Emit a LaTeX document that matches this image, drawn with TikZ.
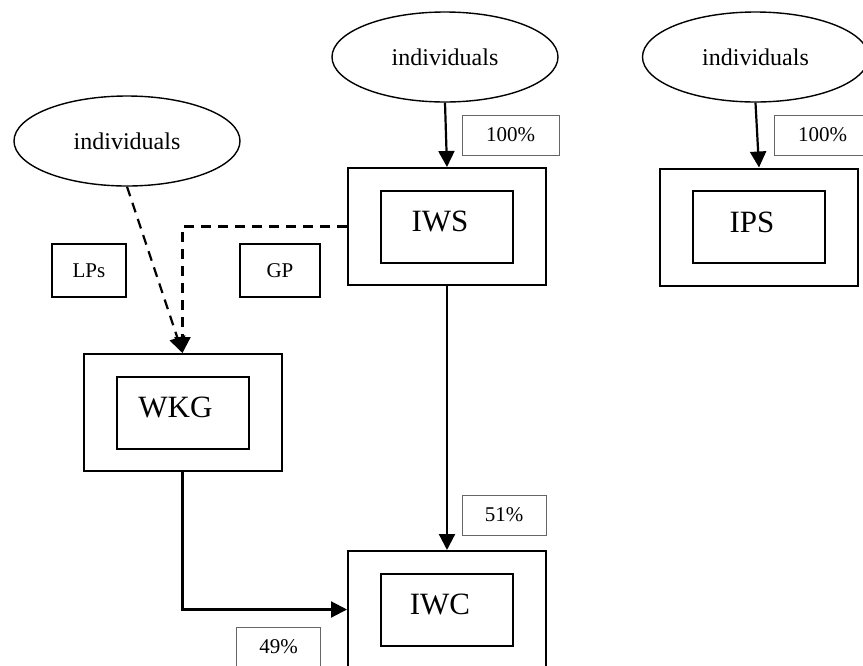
\documentclass[tikz,border=0pt]{standalone}
\usepackage{fontspec}
\setmainfont{Liberation Serif}
\usetikzlibrary{arrows.meta,shapes.geometric}

\begin{document}
\begin{tikzpicture}[x=0.5pt,y=-0.5pt,
	outerbox/.style={draw,line width=1pt,minimum width=99pt,minimum height=58.5pt,inner sep=0pt},
	innerbox/.style={draw,line width=1pt,minimum width=66pt,minimum height=36pt,inner sep=0pt,text height=11pt,text depth=6pt,font=\fontsize{15.5}{18}\selectfont},
	people/.style={draw,ellipse,line width=0.7pt,minimum width=113pt,minimum height=45pt,inner sep=0pt,font=\fontsize{12}{14}\selectfont},
	share/.style={draw=black!60,line width=0.45pt,minimum height=20pt,inner sep=0pt,font=\fontsize{10.5}{12}\selectfont},
	partner/.style={draw,line width=0.7pt,minimum height=26.5pt,inner sep=0pt,font=\fontsize{10.5}{12}\selectfont},
	link/.style={line width=1.1pt,-{Triangle[length=8pt,width=8pt]}},
	dashlink/.style={link,dash pattern=on 5pt off 3.5pt}]
\useasboundingbox (0,0) rectangle (863,665);
\clip (0,0) rectangle (863,665);

% entities, each a box in a box
\foreach \n/\t/\x/\y in {iws/IWS/447/226.5, ips/IPS/759/227, wkg/WKG/182.5/412.5, iwc/IWC/447/609.5}
{
	\node[outerbox] (\n) at (\x,\y) {};
	\node[innerbox] (\n in) at (\x,\y) {\t\hspace*{7pt}};
}

% owners
\node[people] (indA) at (127,141) {individuals};
\node[people] (indB) at (445,57) {individuals};
\node[people] (indC) at (755.5,57) {individuals};

\node[partner,minimum width=37pt] (lps) at (89,270.5) {LPs};
\node[partner,minimum width=40pt] (gp) at (280,270.5) {GP};

% shares
\node[share,minimum width=48.5pt] (pctB) at (510.5,135) {100\%};
\node[share,minimum width=48.5pt] (pctC) at (822.5,135) {100\%};
\node[share,minimum width=42pt] (pctIWS) at (504,515) {51\%};
\node[share,minimum width=42pt] (pctWKG) at (278.5,647) {49\%};

\draw[link] (indB.south) -- (iws.north);
\draw[link] (indC.south) -- (ips.north);
\draw[dashlink] (indA.south) -- (wkg.north);
\draw[dashlink] (iws.west) -| (wkg.north);
\draw[link] (iws.south) -- (iwc.north);
\draw[link] (wkg.south) |- (iwc.west);
\end{tikzpicture}
\end{document}
